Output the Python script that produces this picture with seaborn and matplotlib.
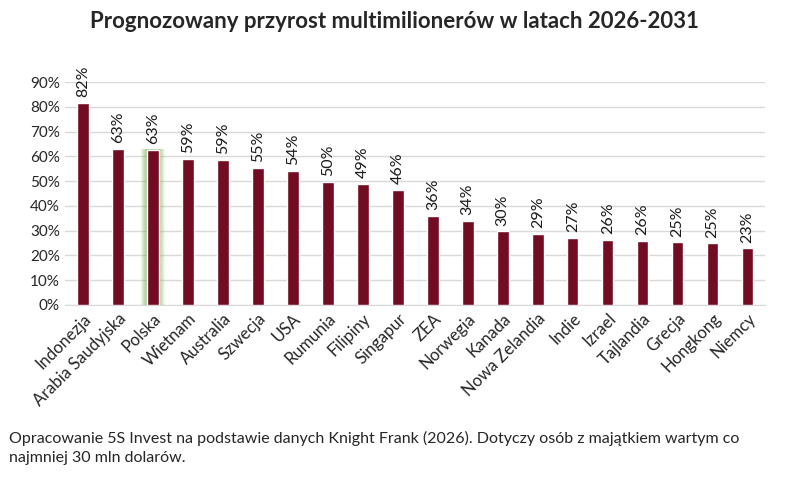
import matplotlib
matplotlib.use("Agg")
import matplotlib.pyplot as plt
import seaborn as sns
import pandas as pd

# data
countries = ["Indonezja", "Arabia Saudyjska", "Polska", "Wietnam", "Australia",
             "Szwecja", "USA", "Rumunia", "Filipiny", "Singapur", "ZEA",
             "Norwegia", "Kanada", "Nowa Zelandia", "Indie", "Izrael",
             "Tajlandia", "Grecja", "Hongkong", "Niemcy"]
growth = [81.6, 63.0, 62.6, 59.1, 58.6, 55.3, 54.1, 49.7, 48.9, 46.4, 35.9,
          33.9, 29.8, 28.7, 27.0, 26.2, 25.8, 25.3, 24.9, 22.9]
labels = [82, 63, 63, 59, 59, 55, 54, 50, 49, 46, 36, 34, 30, 29, 27, 26, 26, 25, 25, 23]
highlight = "Polska"

df = pd.DataFrame({"kraj": countries, "przyrost": growth})

sns.set_style("white")
plt.rcParams["font.family"] = ["Lato", "DejaVu Sans"]

fig = plt.figure(figsize=(7.88, 4.78), dpi=100)
ax = fig.add_axes([0.083, 0.362, 0.888, 0.466])

sns.barplot(data=df, x="kraj", y="przyrost", color="#720c22", width=0.33,
            saturation=1, ax=ax, zorder=3)

# soft green glow behind the highlighted bar, built from stacked translucent bars
hi = countries.index(highlight)
n_layers = 12
for k in range(n_layers):
    w = 0.68 - k * (0.68 - 0.34) / n_layers
    ax.bar(hi, growth[hi] + 0.4, width=w, color="#7fb356", alpha=0.07,
           zorder=2, linewidth=0)

for i, (v, lab) in enumerate(zip(growth, labels)):
    ax.text(i, v + 2.3, f"{lab}%", rotation=90, ha="center", va="bottom",
            fontsize=11.5, color="#1a1a1a")

ax.set_ylim(0, 90)
ax.set_xlim(-0.5, len(countries) - 0.5)
ax.set_yticks(range(0, 91, 10))
ax.set_yticklabels([f"{t}%" for t in range(0, 91, 10)], fontsize=11)
ax.yaxis.grid(True, color="#d9d9d9", linewidth=1)
ax.set_axisbelow(True)
for s in ["top", "right", "left"]:
    ax.spines[s].set_visible(False)
ax.spines["bottom"].set_color("#d9d9d9")
ax.tick_params(axis="both", length=0, pad=4)
ax.set_xticks(range(len(countries)))
ax.set_xticklabels(countries, rotation=45, ha="right", rotation_mode="anchor", fontsize=12)
ax.set_xlabel("")
ax.set_ylabel("")

fig.text(0.5, 0.955, "Prognozowany przyrost multimilionerów w latach 2026-2031",
         ha="center", va="center", fontsize=16, fontweight="bold")
fig.text(0.012, 0.098,
         "Opracowanie 5S Invest na podstawie danych Knight Frank (2026). Dotyczy osób z majątkiem wartym co\nnajmniej 30 mln dolarów.",
         ha="left", va="top", fontsize=11.5, linespacing=1.45)

fig.savefig("out.png", dpi=100)
